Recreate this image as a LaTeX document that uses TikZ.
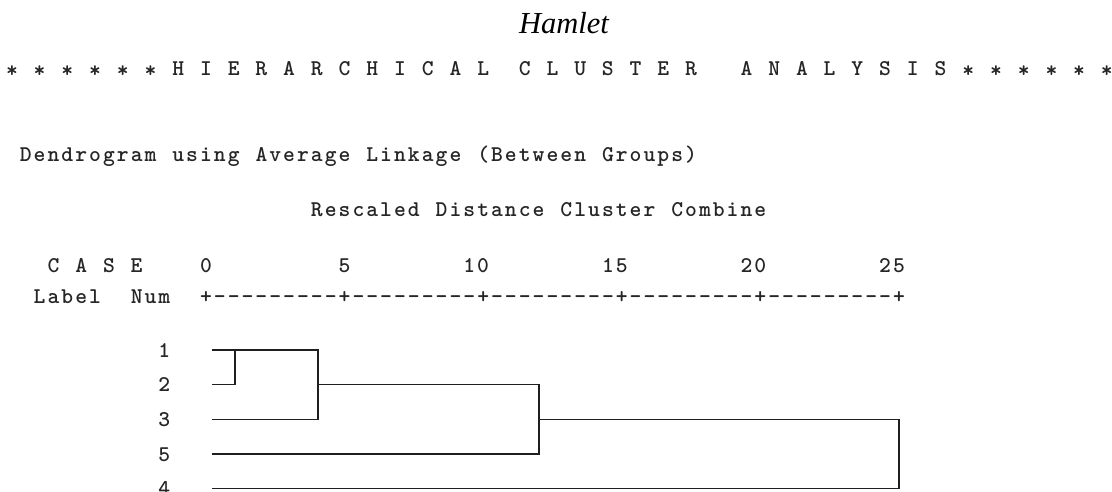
\documentclass[tikz,border=0pt]{standalone}
\usepackage{fontspec}
\setmainfont{Liberation Serif}
\newlength\monopitch
\setlength\monopitch{13.86pt}
\ExplSyntaxOn
\cs_new:Npn \spssstr #1 { \str_map_inline:nn {#1} { \makebox[\monopitch][c]{##1} } }
\ExplSyntaxOff
\newcommand\spssstar{\makebox[\monopitch][c]{\raisebox{-2pt}{*}}\makebox[\monopitch]{}}
\begin{document}
\begin{tikzpicture}[x=1pt,y=-1pt,
  mono/.style={font=\ttfamily\bfseries\fontsize{22.5}{22.5}\selectfont, inner sep=0pt, outer sep=0pt, anchor=base west, text=black!85},
  link/.style={line width=1.3pt, draw=black!88, line cap=rect}]
\useasboundingbox (0,0) rectangle (1112,492);
\clip (0,0) rectangle (1112,492);
\fill[white] (0,0) rectangle (1112,492);
\def\p{13.86}
% title
\node[font=\fontsize{30.5}{30.5}\selectfont\itshape, inner sep=0pt, anchor=base] (title) at (564,34) {Hamlet};
% banner
\node[mono] (starsL) at ({5+\p*0},76) {\spssstar\spssstar\spssstar\spssstar\spssstar\spssstar};
\node[mono] (hier) at ({5+\p*12},76) {\spssstr{H I E R A R C H I C A L}};
\node[mono] (clus) at ({5+\p*37},76) {\spssstr{C L U S T E R}};
\node[mono] (anal) at ({5+\p*53},76) {\spssstr{A N A L Y S I S}};
\node[mono] (starsR) at ({5+\p*69},76) {\spssstar\spssstar\spssstar\spssstar\spssstar\spssstar};
% headings
\node[mono] (dend) at ({5+\p*1},162) {\spssstr{Dendrogram using Average Linkage (Between Groups)}};
\node[mono] (resc) at ({5+\p*22},216) {\spssstr{Rescaled Distance Cluster Combine}};
\node[mono] (case) at ({5+\p*3},272) {\spssstr{C A S E}};
\node[mono] (s0) at ({5+\p*14},272) {\spssstr{0}};
\node[mono] (s5) at ({5+\p*24},272) {\spssstr{5}};
\node[mono] (s10) at ({5+\p*33},272) {\spssstr{10}};
\node[mono] (s15) at ({5+\p*43},272) {\spssstr{15}};
\node[mono] (s20) at ({5+\p*53},272) {\spssstr{20}};
\node[mono] (s25) at ({5+\p*63},272) {\spssstr{25}};
\node[mono] (lab) at ({5+\p*2},303) {\spssstr{Label}};
\node[mono] (num) at ({5+\p*9},303) {\spssstr{Num}};
\node[mono] (axis) at ({5+\p*14},303) {\spssstr{+---------+---------+---------+---------+---------+}};
% case numbers
\node[mono] (c1) at ({5+\p*11},357) {\spssstr{1}};
\node[mono] (c2) at ({5+\p*11},391.7) {\spssstr{2}};
\node[mono] (c3) at ({5+\p*11},426.4) {\spssstr{3}};
\node[mono] (c5) at ({5+\p*11},461.1) {\spssstr{5}};
\node[mono] (c4) at ({5+\p*11},495.8) {\spssstr{4}};
% dendrogram
\coordinate (l1) at (213,350);
\coordinate (l2) at (213,384.7);
\coordinate (l3) at (213,419.4);
\coordinate (l5) at (213,454.1);
\coordinate (l4) at (213,488.8);
\coordinate (a12) at (235,350);
\coordinate (b12) at (235,384.7);
\coordinate (t123) at (318,350);
\coordinate (m123) at (318,384.7);
\coordinate (b123) at (318,419.4);
\coordinate (t1235) at (539,384.7);
\coordinate (m1235) at (539,419.4);
\coordinate (b1235) at (539,454.1);
\coordinate (tall) at (899,419.4);
\coordinate (ball) at (899,488.8);
\draw[link] (l1) -- (t123) -- (b123) -- (l3);
\draw[link] (l2) -- (b12) -- (a12);
\draw[link] (m123) -- (t1235) -- (b1235) -- (l5);
\draw[link] (m1235) -- (tall) -- (ball) -- (l4);
\end{tikzpicture}
\end{document}
